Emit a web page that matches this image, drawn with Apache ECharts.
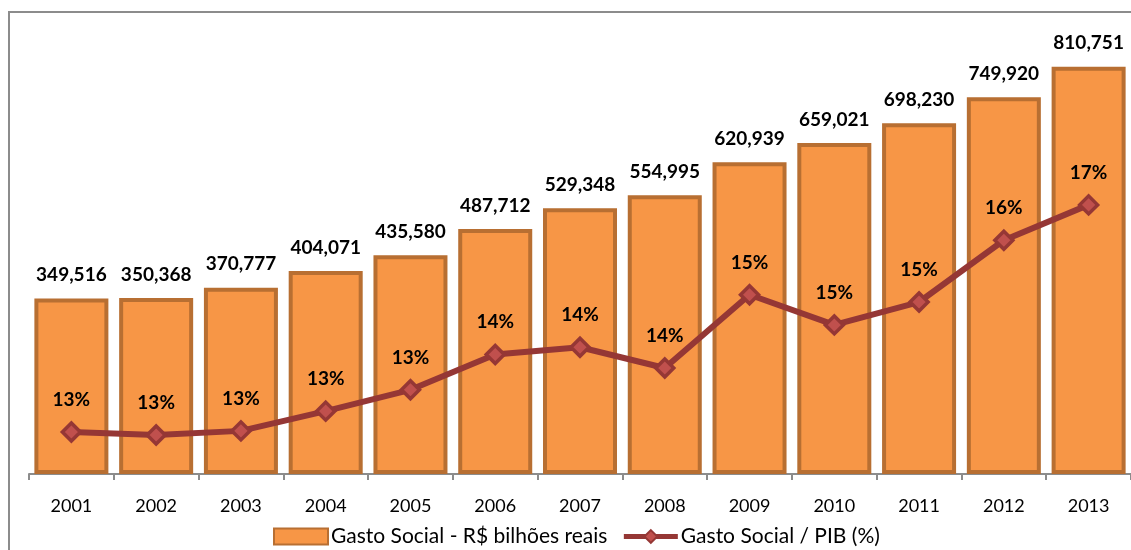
<!DOCTYPE html>
<html>
<head>
<meta charset="utf-8">
<script src="https://cdn.jsdelivr.net/npm/echarts@6/dist/echarts.min.js"></script>
<style>
  html, body { margin: 0; padding: 0; background: #ffffff; }
  #chart { width: 1131px; height: 550px; }
</style>
</head>
<body>
<div id="chart"></div>
<script>
// Anos da série
const years = ['2001', '2002', '2003', '2004', '2005', '2006', '2007',
               '2008', '2009', '2010', '2011', '2012', '2013'];

// Gasto Social - R$ bilhões reais
const gastoSocial = [349516, 350368, 370777, 404071, 435580, 487712, 529348,
                     554995, 620939, 659021, 698230, 749920, 810751];

// Gasto Social / PIB (%)
const gastoPib = [12.61, 12.55, 12.63, 13.01, 13.42, 14.10, 14.24,
                  13.84, 15.25, 14.67, 15.11, 16.30, 16.98];

const seriesNames = ['Gasto Social - R$ bilhões reais', 'Gasto Social / PIB (%)'];

const FONT = 'Lato, "Open Sans", sans-serif';

const chart = echarts.init(document.getElementById('chart'), null, { renderer: 'canvas' });

chart.setOption({
  backgroundColor: '#ffffff',
  animation: false,
  textStyle: { fontFamily: FONT },
  graphic: [{
    type: 'rect',
    shape: { x: 9, y: 12, width: 1200, height: 600 },
    style: { fill: 'none', stroke: '#8c8c8c', lineWidth: 2 },
    z: -1
  }],
  grid: { left: 29, top: 22, width: 1105, height: 452 },
  legend: {
    left: 268,
    top: 521,
    itemWidth: 54,
    itemHeight: 16,
    itemGap: 14,
    textStyle: { fontFamily: FONT, fontSize: 21, color: '#000', padding: [0, 0, 0, -2] },
    data: [
      { name: seriesNames[0], icon: 'rect' },
      { name: seriesNames[1], lineStyle: { width: 5 } }
    ]
  },
  xAxis: {
    type: 'category',
    data: years,
    axisLine: { lineStyle: { color: '#8c8c8c', width: 2 } },
    axisTick: { show: true, length: 6, lineStyle: { color: '#8c8c8c', width: 2 } },
    axisLabel: { color: '#000', fontSize: 18, fontFamily: FONT, margin: 23 }
  },
  yAxis: [
    { type: 'value', min: 0, max: 900000, show: false, splitLine: { show: false } },
    { type: 'value', min: 11.8, max: 20.5, show: false, splitLine: { show: false } }
  ],
  series: [
    {
      name: seriesNames[0],
      type: 'bar',
      data: gastoSocial,
      barWidth: 74,
      itemStyle: { color: '#f79646', borderColor: '#b86f32', borderWidth: 4 },
      label: {
        show: true,
        position: 'top',
        distance: 14,
        color: '#000',
        fontWeight: 'bold',
        fontSize: 19,
        fontFamily: FONT,
        formatter: p => p.value.toLocaleString('en-US')
      }
    },
    {
      name: seriesNames[1],
      type: 'line',
      yAxisIndex: 1,
      data: gastoPib,
      symbol: 'diamond',
      symbolSize: 18,
      lineStyle: { color: '#953735', width: 6 },
      itemStyle: { color: '#c0504d', borderColor: '#953735', borderWidth: 3.5 },
      label: {
        show: true,
        position: 'top',
        distance: 12,
        color: '#000',
        fontWeight: 'bold',
        fontSize: 19,
        fontFamily: FONT,
        formatter: p => Math.round(p.value) + '%'
      }
    }
  ]
});
</script>
</body>
</html>
